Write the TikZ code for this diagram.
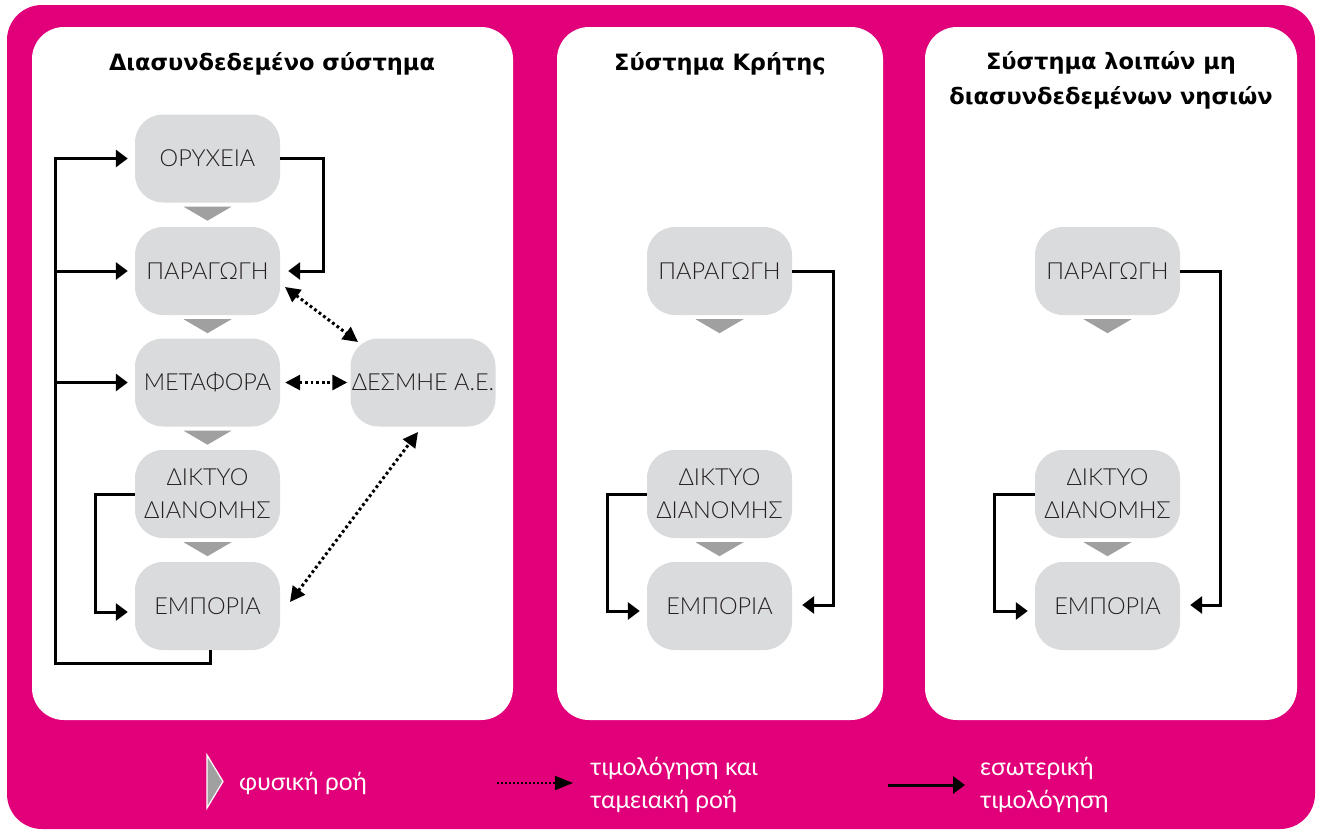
\documentclass[tikz,border=0pt]{standalone}
\usepackage{fontspec}
\setmainfont{Lato}
\newfontfamily\titlefont{DejaVu Sans}
\newfontfamily\boxfont{Lato Light}
\newfontfamily\legfont{Lato}
\usetikzlibrary{arrows.meta,calc}
\definecolor{mag}{HTML}{E2007A}
\definecolor{boxgray}{HTML}{DADBDC}
\definecolor{trigray}{HTML}{A0A0A0}
\definecolor{ink}{HTML}{231F20}
\newcommand\flowtri[1]{\fill[trigray] ($(#1.south)+(-24,4)$) -- ++(48,0) -- ($(#1.south)+(0,18)$) -- cycle;}
\begin{document}
\begin{tikzpicture}[x=1pt,y=-1pt,
  panel/.style={fill=white, rounded corners=32pt},
  box/.style={rectangle, fill=boxgray, rounded corners=28pt, minimum width=145pt, minimum height=88pt,
    inner sep=0pt, align=center, font=\boxfont\fontsize{23.5}{33}\selectfont, text=ink},
  titletext/.style={font=\titlefont\bfseries\fontsize{22.5}{35}\selectfont, align=center, text=black},
  legtext/.style={font=\legfont\fontsize{24.5}{33}\selectfont, text=white, align=left, inner sep=0pt},
  conn/.style={line width=3pt, draw=black, -{Triangle[length=12pt,width=17pt]}},
  dotconn/.style={line width=3pt, draw=black, dash pattern=on 2.8pt off 2.8pt,
    {Triangle[length=15pt,width=15pt]}-{Triangle[length=15pt,width=15pt]}}]
\useasboundingbox (0,0) rectangle (1318,830);
\fill[white] (0,0) rectangle (1318,830);
\fill[mag, rounded corners=35pt] (7,5) rectangle (1315,829);
\fill[panel] (32,27) rectangle (513,720);
\fill[panel] (557,27) rectangle (883,720);
\fill[panel] (925,27) rectangle (1297,720);

% titles
\node[titletext, anchor=base] (t1) at (272,70) {Διασυνδεδεμένο σύστημα};
\node[titletext, anchor=base] (t2) at (720,70) {Σύστημα Κρήτης};
\node[titletext, anchor=center] (t3) at (1111,80) {Σύστημα λοιπών μη\\διασυνδεδεμένων νησιών};

% panel 1
\node[box] (ory) at (207.5,158.5) {ΟΡΥΧΕΙΑ};
\node[box] (par) at (207.5,271) {ΠΑΡΑΓΩΓΗ};
\node[box] (met) at (207.5,382.5) {ΜΕΤΑΦΟΡΑ};
\node[box] (dik) at (207.5,494) {ΔΙΚΤΥΟ\\ΔΙΑΝΟΜΗΣ};
\node[box] (emp) at (207.5,606) {ΕΜΠΟΡΙΑ};
\node[box] (des) at (423,382.5) {ΔΕΣΜΗΕ Α.Ε.};
\flowtri{ory}\flowtri{par}\flowtri{met}\flowtri{dik}

\coordinate (busB) at (55,663);
\draw[conn] ([xshift=3pt]emp.south) |- (busB) |- ([xshift=-7pt]ory.west);
\draw[conn] (busB |- par.west) -- ([xshift=-7pt]par.west);
\draw[conn] (busB |- met.west) -- ([xshift=-7pt]met.west);
\coordinate (oR) at (323,160);
\draw[conn] (ory.east) -| (oR |- par.east) -- ([xshift=8pt]par.east);
\coordinate (dL) at (95,612);
\draw[conn] (dik.west) -| (dL) -- ($(dL -| emp.west)+(-7,0)$);

\draw[dotconn] ($(par.center)+(77.5,16)$) -- ($(des.center)+(-65,-40.5)$);
\draw[dotconn] ([xshift=5pt]met.east) -- ([xshift=-3pt]des.west);
\draw[dotconn] ($(emp.center)+(82.5,-4)$) -- ($(des.center)+(-5,49.5)$);

% panel 2
\node[box] (kpar) at (719.5,271) {ΠΑΡΑΓΩΓΗ};
\node[box] (kdik) at (719.5,494) {ΔΙΚΤΥΟ\\ΔΙΑΝΟΜΗΣ};
\node[box] (kemp) at (719.5,606) {ΕΜΠΟΡΙΑ};
\flowtri{kpar}\flowtri{kdik}
\coordinate (kR) at (833,605);
\draw[conn] (kpar.east) -| (kR) -- ($(kR -| kemp.east)+(10,0)$);
\coordinate (kL) at (607,611);
\draw[conn] (kdik.west) -| (kL) -- ($(kL -| kemp.west)+(-7,0)$);

% panel 3
\node[box] (npar) at (1107.5,271) {ΠΑΡΑΓΩΓΗ};
\node[box] (ndik) at (1107.5,494) {ΔΙΚΤΥΟ\\ΔΙΑΝΟΜΗΣ};
\node[box] (nemp) at (1107.5,606) {ΕΜΠΟΡΙΑ};
\flowtri{npar}\flowtri{ndik}
\coordinate (nR) at (1220,605);
\draw[conn] (npar.east) -| (nR) -- ($(nR -| nemp.east)+(10,0)$);
\coordinate (nL) at (994,611);
\draw[conn] (ndik.west) -| (nL) -- ($(nL -| nemp.west)+(-7,0)$);

% legend
\filldraw[fill=trigray, draw=white, line width=1.2pt] (207,755) -- (207,808) -- (223,781.5) -- cycle;
\node[legtext, anchor=base west] (l1) at (239,790) {φυσική ροή};
\coordinate (l2s) at (497,783);
\coordinate (l2e) at (573,783);
\draw[line width=2pt, dash pattern=on 2pt off 2pt, -{Triangle[length=18pt,width=14pt]}] (l2s) -- (l2e);
\node[legtext, anchor=west] (l2) at (590,785) {τιμολόγηση και\\ταμειακή ροή};
\coordinate (l3s) at (888,785);
\coordinate (l3e) at (965,785);
\draw[conn] (l3s) -- (l3e);
\node[legtext, anchor=west] (l3) at (980,785) {εσωτερική\\τιμολόγηση};
\end{tikzpicture}
\end{document}
